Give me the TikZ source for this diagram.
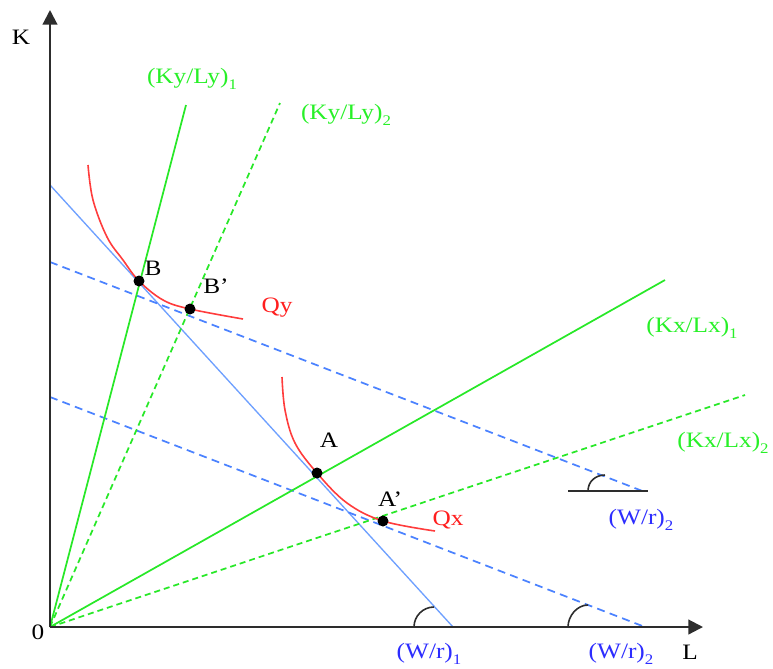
\documentclass[tikz,border=0pt]{standalone}
\usepackage{fontspec}
\setmainfont{Liberation Serif}[FakeStretch=1.15]
\usetikzlibrary{arrows.meta}
\newcommand{\lsub}[1]{\raisebox{-0.28em}{\fontsize{11}{12}\selectfont #1}}
\definecolor{grn}{RGB}{40,232,40}
\definecolor{grnlab}{RGB}{40,240,40}
\definecolor{crv}{RGB}{255,60,60}
\definecolor{redlab}{RGB}{255,30,30}
\definecolor{bsolid}{RGB}{110,160,255}
\definecolor{bdash}{RGB}{75,130,255}
\definecolor{bluelab}{RGB}{45,45,255}
\definecolor{axcol}{RGB}{45,45,45}
\tikzset{
  axis/.style={draw=axcol, line width=1.6pt, -{Triangle[length=11pt,width=11pt]}},
  gline/.style={draw=grn, line width=1.3pt},
  gdash/.style={draw=grn, line width=1.3pt, dash pattern=on 4.5pt off 3pt},
  bline/.style={draw=bsolid, line width=1pt},
  bdashed/.style={draw=bdash, line width=1.3pt, dash pattern=on 6pt off 4pt},
  iso/.style={draw=crv, line width=1.2pt},
  angarc/.style={draw=axcol, line width=1.2pt},
  lab/.style={inner sep=0pt},
  dot/.style={fill=black}
}
\begin{document}
\begin{tikzpicture}[x=0.75pt,y=-0.75pt,font=\fontsize{16.5}{18}\selectfont]
\useasboundingbox (0,0) rectangle (773,668);
% coordinates
\coordinate (O) at (50,627);
\coordinate (ytip) at (50,10);
\coordinate (xtip) at (703,627);
\coordinate (bs1) at (50,185);
\coordinate (bs2) at (453,627);
\coordinate (bu1) at (50,262);
\coordinate (bu2) at (645,492);
\coordinate (bl1) at (50,397);
\coordinate (bl2) at (645,627);
\coordinate (gy1) at (186,105);
\coordinate (gy2) at (280,103);
\coordinate (gx1) at (665,280);
\coordinate (gx2) at (745,395);
\coordinate (hl1) at (568,491);
\coordinate (hl2) at (648,491);
\coordinate (B) at (139,281);
\coordinate (Bp) at (190,309);
\coordinate (A) at (317,473);
\coordinate (Ap) at (383,521);
% blue lines
\draw[bline] (bs1) -- (bs2);
\draw[bdashed] (bu1) -- (bu2);
\draw[bdashed] (bl1) -- (bl2);
% green rays
\draw[gline] (O) -- (gy1);
\draw[gdash] (O) -- (gy2);
\draw[gline] (O) -- (gx1);
\draw[gdash] (O) -- (gx2);
% isoquants
\draw[iso] plot[smooth, tension=0.6] coordinates {(88,165) (93,200) (107,237) (123,260) (139,281) (163,300) (190,309) (243,319)};
\draw[iso] plot[smooth, tension=0.6] coordinates {(282,377) (285,410) (295,443) (317,473) (347,503) (383,521) (435,531)};
% axes
\draw[axis] (O) -- (ytip);
\draw[axis] (O) -- (xtip);
% angle marks
\draw[angarc] (414,627) .. controls (414,616) and (423,607) .. (434,607);
\draw[angarc] (568,627) .. controls (568,616) and (577,605) .. (588,605);
\draw[axcol, line width=1.2pt] (hl1) -- (hl2);
\draw[angarc] (588,491) .. controls (588,481) and (596,475) .. (605,475);
% dots
\fill[dot] (B) circle[radius=5.5];
\fill[dot] (Bp) circle[radius=5.5];
\fill[dot] (A) circle[radius=5.5];
\fill[dot] (Ap) circle[radius=5.5];
% labels
\node[lab] (lK) at (21,37) {K};
\node[lab] (lL) at (690,652) {L};
\node[lab] (l0) at (38,632) {0};
\node[lab] (lB) at (153,268) {B};
\node[lab] (lBp) at (216,286) {B’};
\node[lab] (lA) at (329,440) {A};
\node[lab] (lAp) at (390,499) {A’};
\node[lab, text=redlab] (lQy) at (277,308) {Qy};
\node[lab, text=redlab] (lQx) at (448,520) {Qx};
\node[lab, text=grnlab] (lky1) at (192,79) {(Ky/Ly)\lsub{1}};
\node[lab, text=grnlab] (lky2) at (346,115) {(Ky/Ly)\lsub{2}};
\node[lab, text=grnlab] (lkx1) at (692,328) {(Kx/Lx)\lsub{1}};
\node[lab, text=grnlab] (lkx2) at (723,443) {(Kx/Lx)\lsub{2}};
\node[lab, text=bluelab] (lw2r) at (641,520) {(W/r)\lsub{2}};
\node[lab, text=bluelab] (lw1) at (429,654) {(W/r)\lsub{1}};
\node[lab, text=bluelab] (lw2) at (621,654) {(W/r)\lsub{2}};
\end{tikzpicture}
\end{document}
